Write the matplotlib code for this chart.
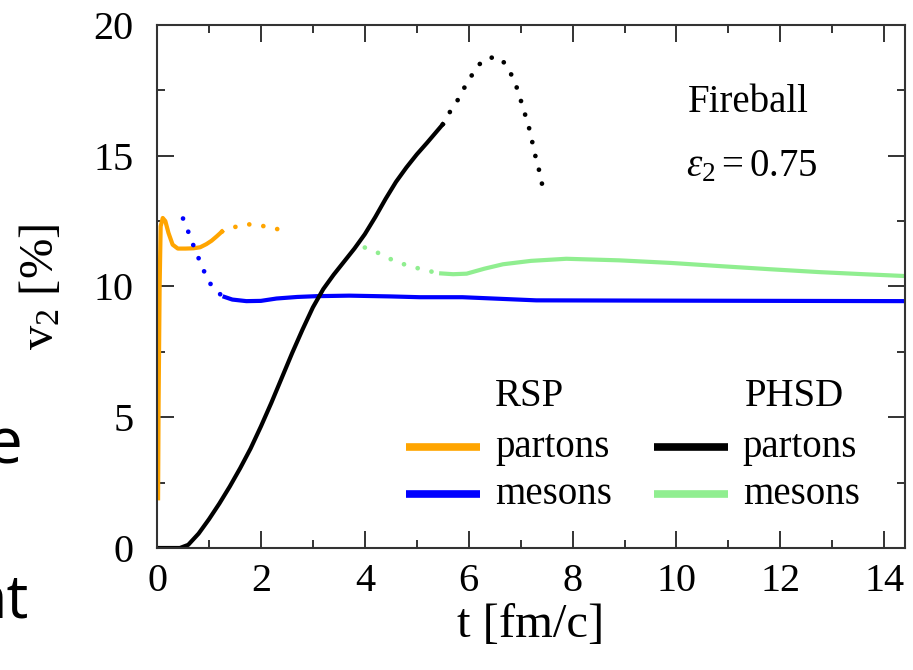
"""v2(t) of partons and mesons for the fireball, RSP vs PHSD."""

import matplotlib

matplotlib.use("Agg")
import matplotlib.pyplot as plt
from matplotlib.ticker import MultipleLocator

# RSP partons (orange): solid part then dotted continuation
rsp_partons_t = [0.02, 0.03, 0.05, 0.07, 0.11, 0.16, 0.22, 0.3, 0.4, 0.55, 0.7, 0.83, 0.95, 1.05, 1.15, 1.25]
rsp_partons_v2 = [1.9, 5.5, 10.0, 12.3, 12.62, 12.5, 12.05, 11.6, 11.45, 11.45, 11.46, 11.5, 11.62, 11.75, 11.92, 12.1]
rsp_partons_dot_t = [1.25, 1.45, 1.71, 1.95, 2.2, 2.47]
rsp_partons_dot_v2 = [12.1, 12.25, 12.38, 12.36, 12.23, 12.15]

# RSP mesons (blue)
rsp_mesons_dot_t = [0.5, 0.6, 0.69, 0.79, 0.89, 1.0, 1.17, 1.3]
rsp_mesons_dot_v2 = [12.6, 12.1, 11.62, 11.13, 10.65, 10.17, 9.76, 9.6]
rsp_mesons_t = [1.3, 1.45, 1.72, 2.0, 2.3, 2.7, 3.07, 3.7, 4.5, 5.06, 5.88, 7.3, 9.54, 12.0, 14.4]
rsp_mesons_v2 = [9.6, 9.5, 9.44, 9.45, 9.54, 9.6, 9.63, 9.65, 9.62, 9.59, 9.59, 9.47, 9.46, 9.45, 9.44]

# PHSD partons (black)
phsd_partons_t = [0.0, 0.44, 0.6, 0.8, 1.0, 1.2, 1.4, 1.6, 1.8, 2.0, 2.2, 2.4, 2.6, 2.8, 3.0,
                  3.2, 3.4, 3.6, 3.8, 4.0, 4.2, 4.4, 4.6, 4.8, 5.0, 5.2, 5.5]
phsd_partons_v2 = [0.0, 0.0, 0.12, 0.55, 1.1, 1.7, 2.35, 3.05, 3.8, 4.65, 5.55, 6.5, 7.45, 8.35, 9.2,
                   9.9, 10.45, 10.95, 11.45, 12.0, 12.65, 13.35, 14.0, 14.55, 15.05, 15.5, 16.2]
phsd_partons_dot_t = [5.5, 5.63, 5.78, 5.9, 6.03, 6.17, 6.37, 6.62, 6.77, 6.88, 6.97, 7.04,
                      7.12, 7.19, 7.24, 7.3, 7.37, 7.42]
phsd_partons_dot_v2 = [16.2, 16.65, 17.1, 17.55, 17.98, 18.44, 18.76, 18.73, 18.3, 17.86, 17.35, 16.86,
                       16.36, 15.86, 15.36, 14.85, 14.33, 13.83]

# PHSD mesons (light green)
phsd_mesons_dot_t = [4.0, 4.22, 4.48, 4.72, 4.98, 5.23, 5.47]
phsd_mesons_dot_v2 = [11.49, 11.32, 11.06, 10.87, 10.72, 10.59, 10.5]
phsd_mesons_t = [5.47, 5.7, 5.96, 6.3, 6.66, 7.2, 7.88, 8.9, 9.9, 10.83, 11.8, 12.75, 13.6, 14.4]
phsd_mesons_v2 = [10.5, 10.47, 10.49, 10.68, 10.85, 10.98, 11.06, 11.0, 10.9, 10.78, 10.66, 10.55, 10.47, 10.4]

ORANGE = "#ffa500"
BLUE = "#0000ff"
BLACK = "#000000"
GREEN = "#90ee90"

SERIF = ["Liberation Serif", "DejaVu Serif"]
plt.rcParams["font.family"] = SERIF
plt.rcParams["mathtext.fontset"] = "custom"
plt.rcParams["mathtext.rm"] = "Liberation Serif"
plt.rcParams["mathtext.it"] = "Liberation Serif:italic"

LW = 3.0
DOT_LW = 3.4
DOTS = (0, (0.01, 3.0))

fig = plt.figure(figsize=(9.13, 6.70), dpi=100)
ax = fig.add_axes([0.172, 0.1821, 0.8193, 0.7806])


def dotted(t, v2, color):
    ax.plot(t, v2, color=color, lw=DOT_LW, linestyle=DOTS, dash_capstyle="round")


ax.plot(rsp_partons_t, rsp_partons_v2, color=ORANGE, lw=LW, solid_joinstyle="round")
dotted(rsp_partons_dot_t, rsp_partons_dot_v2, ORANGE)
dotted(rsp_mesons_dot_t, rsp_mesons_dot_v2, BLUE)
ax.plot(rsp_mesons_t, rsp_mesons_v2, color=BLUE, lw=LW)
dotted(phsd_mesons_dot_t, phsd_mesons_dot_v2, GREEN)
ax.plot(phsd_mesons_t, phsd_mesons_v2, color=GREEN, lw=LW)
ax.plot(phsd_partons_t, phsd_partons_v2, color=BLACK, lw=LW)
dotted(phsd_partons_dot_t, phsd_partons_dot_v2, BLACK)

ax.set_xlim(0, 14.4)
ax.set_ylim(0, 20)
ax.xaxis.set_major_locator(MultipleLocator(2))
ax.xaxis.set_minor_locator(MultipleLocator(1))
ax.yaxis.set_major_locator(MultipleLocator(5))
ax.yaxis.set_minor_locator(MultipleLocator(2.5))
ax.tick_params(which="both", direction="in", top=True, right=True, width=1.4, color="#333333")
ax.tick_params(which="major", length=12, labelsize=29)
ax.tick_params(axis="x", which="major", pad=11)
ax.tick_params(axis="y", which="major", pad=17)
ax.tick_params(which="minor", length=6)
for spine in ax.spines.values():
    spine.set_linewidth(1.5)
    spine.set_color("#333333")

ax.set_xlabel("t [fm/c]", fontsize=35, labelpad=2)
ax.set_ylabel(r"v$_2$ [%]", fontsize=35, labelpad=22)

# legend drawn by hand: two titled columns
ax.text(0.452, 0.289, "RSP", transform=ax.transAxes, fontsize=28, va="center")
ax.text(0.786, 0.289, "PHSD", transform=ax.transAxes, fontsize=28, va="center")
legend_rows = [
    (0.333, 0.193, ORANGE, "partons"),
    (0.333, 0.103, BLUE, "mesons"),
    (0.664, 0.193, BLACK, "partons"),
    (0.664, 0.103, GREEN, "mesons"),
]
for x0, y0, color, label in legend_rows:
    ax.plot([x0, x0 + 0.099], [y0, y0], transform=ax.transAxes, color=color, lw=5.5,
            solid_capstyle="butt")
    ax.text(x0 + 0.119, y0, label, transform=ax.transAxes, fontsize=28, va="center")

ax.text(0.791, 0.851, "Fireball", transform=ax.transAxes, fontsize=28, ha="center", va="center")
ax.text(0.795, 0.728, r"$\varepsilon_2 = 0.75$", transform=ax.transAxes, fontsize=28,
        ha="center", va="center")

# leftover slide text cut by the left edge
fig.text(22 / 913, 1 - 463 / 670, "e", fontsize=46, family=["Open Sans", "DejaVu Sans"],
         ha="right", va="baseline")
fig.text(29 / 913, 1 - 617 / 670, "nt", fontsize=44, family=["Open Sans", "DejaVu Sans"],
         ha="right", va="baseline")

fig.savefig("out.png", dpi=100)
plt.close(fig)
